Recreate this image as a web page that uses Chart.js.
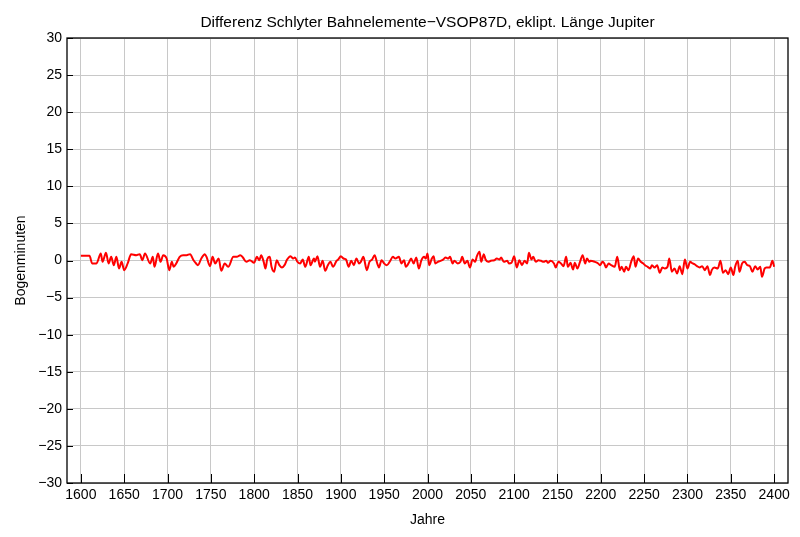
<!DOCTYPE html>
<html>
<head>
<meta charset="utf-8">
<script src="https://cdn.jsdelivr.net/npm/chart.js@4/dist/chart.umd.min.js"></script>
<style>
  body { margin: 0; background: #fff; }
  #wrap { width: 800px; height: 537px; }
</style>
</head>
<body>
<div id="wrap"><canvas id="diffChart" width="800" height="537"></canvas></div>
<script>
const titleText = 'Differenz Schlyter Bahnelemente\u2212VSOP87D, eklipt. L\u00e4nge Jupiter';
const xLabel = 'Jahre';
const yLabel = 'Bogenminuten';

const xTicks = [1600, 1650, 1700, 1750, 1800, 1850, 1900, 1950, 2000, 2050, 2100, 2150, 2200, 2250, 2300, 2350, 2400];
const yTicks = [-30, -25, -20, -15, -10, -5, 0, 5, 10, 15, 20, 25, 30];

// years and difference in arcminutes
const years = [
  1600, 1610, 1613, 1618, 1623, 1625, 1629, 1632, 1635, 1638, 1641, 1644, 1647, 1650, 1654, 1658,
  1664, 1668, 1671, 1674, 1680, 1683, 1685, 1689, 1692, 1695, 1699, 1702, 1705, 1707, 1710, 1714,
  1718, 1722, 1726, 1730, 1733, 1735, 1739, 1743, 1745, 1749, 1752, 1755, 1759, 1762, 1766, 1770,
  1776, 1780, 1784, 1787, 1791, 1795,
  1800, 1803, 1806, 1808, 1811, 1813, 1815, 1818, 1820, 1823, 1826, 1829, 1832, 1835, 1838, 1842,
  1845, 1847, 1850, 1853, 1856, 1859, 1863, 1865, 1869, 1870, 1873, 1876, 1879, 1882, 1885, 1888,
  1891, 1895, 1897, 1900, 1903, 1906, 1909, 1912, 1915, 1918, 1921, 1923, 1926, 1930, 1933, 1936,
  1939, 1942, 1944, 1947, 1950, 1953, 1957, 1960, 1963, 1967, 1970, 1973, 1975, 1979, 1981, 1984,
  1987, 1990,
  1993, 1996, 1998, 2000, 2002, 2005, 2007, 2009, 2012, 2015, 2018, 2021, 2024, 2026, 2029, 2031,
  2035, 2038, 2040, 2043, 2046, 2049, 2052, 2055, 2057, 2060, 2062, 2065, 2067, 2070, 2073, 2077,
  2080, 2083, 2085, 2088, 2092, 2094, 2097, 2100, 2103, 2106, 2109, 2112, 2115, 2117, 2120, 2122,
  2125, 2128, 2131, 2134, 2137, 2139, 2142, 2146, 2148, 2151, 2154, 2157, 2160, 2162, 2165, 2168,
  2170, 2173, 2176, 2179, 2182, 2184, 2187,
  2188, 2193, 2197, 2199, 2202, 2204, 2206, 2209, 2212, 2216, 2219, 2222, 2224, 2227, 2229, 2232,
  2235, 2238, 2240, 2243, 2246, 2249, 2251, 2254, 2257, 2259, 2262, 2265, 2268, 2271, 2274, 2277,
  2279, 2282, 2285, 2288, 2291, 2294, 2297, 2300, 2303, 2306, 2308, 2311, 2314, 2317, 2320, 2323,
  2326, 2328, 2331, 2335, 2338, 2341, 2344, 2347, 2350, 2353, 2355, 2358, 2360, 2363, 2366, 2369,
  2372, 2375, 2378, 2381, 2384, 2386, 2389, 2391, 2395, 2398, 2400
];
const diffMinutes = [
  0.63, 0.63, -0.40, -0.40, 0.94, -0.18, 1.03, -0.40, 0.49, -0.63, 0.49, -1.08, -0.18, -1.30, -0.40, 0.85,
  0.72, 0.85, 0.04, 0.94, -0.40, 0.49, -0.85, 0.94, -0.18, 0.72, 0.27, -1.30, -0.18, -0.85, -0.40, 0.49,
  0.72, 0.72, 0.85, 0.04, -0.40, -0.63, 0.27, 0.85, 0.49, -0.76, 0.49, -0.40, 0.27, -1.39, -0.40, -0.85,
  0.49, 0.49, 0.72, 0.40, -0.18, 0.04,
  -0.31, 0.49, 0.04, 0.72, -0.18, -1.08, 0.13, 0.49, -0.85, -1.52, 0.04, -0.63, -0.94, -0.63, 0.13, 0.58,
  0.27, 0.40, -0.18, -0.40, 0.13, -0.85, 0.49, -0.63, 0.27, -0.18, 0.58, -0.85, -0.04, -1.39, -0.63, -0.18,
  -0.85, -0.04, 0.13, 0.58, 0.27, 0.13, -0.85, -0.04, -0.63, 0.27, -0.40, -0.18, 0.49, -1.30, -0.18, 0.13,
  0.72, -0.40, -0.94, 0.04, -0.40, -0.63, -0.04, 0.49, 0.27, 0.49, -0.40, 0.04, -0.85, -0.18, 0.27, -0.40,
  0.40, -1.08,
  0.04, 0.49, 0.27, 0.94, -0.63, 0.27, 0.58, -0.40, -0.18, -0.04, 0.13, 0.40, 0.27, 0.49, -0.40, -0.04,
  -0.40, -0.18, 0.49, -0.40, -0.04, -0.94, 0.13, -0.18, 0.58, 1.17, -0.18, 0.85, 0.13, -0.18, -0.04, 0.04,
  0.27, 0.13, 0.40, -0.18, -0.04, -0.40, -0.31, 0.58, -0.94, 0.04, -0.63, -0.04, -0.40, 1.03, 0.13, 0.49,
  -0.18, 0.04, -0.04, -0.18, -0.04, -0.31, -0.04, -0.40, -0.94, -0.18, -0.40, -0.76, 0.49, -0.85, -0.31, -1.21,
  -0.31, -1.08, -0.18, 0.72, -0.40, 0.27, -0.18,
  -0.04, -0.18, -0.40, -0.63, -0.18, -0.40, -0.94, -0.40, -0.63, -0.85, 0.49, -1.30, -0.85, -1.52, -0.85, -1.30,
  -0.18, 0.58, -0.85, 0.27, -0.18, -0.40, -0.63, -0.85, -1.08, -0.63, -0.94, -0.63, -1.66, -0.94, -1.08, -0.85,
  0.27, -1.52, -1.08, -1.75, -0.76, -1.84, 0.13, -1.08, -0.18, -0.40, -0.49, -0.76, -0.94, -0.76, -1.30, -0.76,
  -1.97, -1.30, -0.94, -1.08, -0.04, -1.66, -1.30, -1.84, -0.94, -1.97, -0.85, -0.04, -1.52, -0.40, -0.18, -0.63,
  -0.76, -1.52, -0.76, -1.21, -0.85, -2.20, -1.08, -0.94, -0.94, -0.04, -0.85
];

const fontFamily = '"Liberation Sans", Arial, sans-serif';

// frame on all four sides plus short ticks pointing inward (bottom and left only)
const framePlugin = {
  id: 'frame',
  afterDraw(chart) {
    const ctx = chart.ctx;
    const area = chart.chartArea;
    const xScale = chart.scales.x;
    const yScale = chart.scales.y;
    ctx.save();
    ctx.strokeStyle = '#000';
    ctx.lineWidth = 1;
    ctx.beginPath();
    xTicks.forEach(v => {
      const px = Math.round(xScale.getPixelForValue(v)) + 0.5;
      ctx.moveTo(px, area.bottom);
      ctx.lineTo(px, area.bottom - 9);
    });
    yTicks.forEach(v => {
      const py = Math.round(yScale.getPixelForValue(v)) + 0.5;
      ctx.moveTo(area.left, py);
      ctx.lineTo(area.left + 6, py);
    });
    ctx.stroke();
    ctx.lineWidth = 1.3;
    ctx.strokeRect(area.left, area.top, area.right - area.left, area.bottom - area.top);
    ctx.restore();
  }
};

function createDiffChart() {
  const ctx = document.getElementById('diffChart').getContext('2d');
  const points = years.map((yr, i) => ({ x: yr, y: diffMinutes[i] }));

  new Chart(ctx, {
    type: 'line',
    data: {
      datasets: [
        {
          data: points,
          borderColor: '#ff0000',
          borderWidth: 2,
          pointRadius: 0,
          cubicInterpolationMode: 'monotone',
          fill: false
        }
      ]
    },
    options: {
      responsive: false,
      animation: false,
      layout: { padding: { left: 0, right: 12, top: 0, bottom: 0 } },
      plugins: {
        legend: { display: false },
        tooltip: { enabled: false },
        title: {
          display: true,
          text: titleText,
          fullSize: false,
          color: '#000',
          font: { family: fontFamily, size: 15.5, weight: 'normal' },
          padding: { top: 13, bottom: 6.4 }
        }
      },
      scales: {
        x: {
          type: 'linear',
          min: 1584,
          max: 2416,
          afterBuildTicks: scale => { scale.ticks = xTicks.map(v => ({ value: v })); },
          afterFit: scale => { scale.height = 54; },
          grid: { color: '#c8c8c8', lineWidth: 1, drawTicks: false },
          border: { display: false },
          ticks: {
            color: '#000',
            padding: 4,
            maxRotation: 0,
            autoSkip: false,
            font: { family: fontFamily, size: 14 },
            callback: v => String(v)
          },
          title: {
            display: true,
            text: xLabel,
            color: '#000',
            font: { family: fontFamily, size: 14 },
            padding: { top: 0, bottom: 8 }
          }
        },
        y: {
          min: -30,
          max: 30,
          afterBuildTicks: scale => { scale.ticks = yTicks.map(v => ({ value: v })); },
          afterFit: scale => { scale.width = 67; },
          grid: { color: '#c8c8c8', lineWidth: 1, drawTicks: false },
          border: { display: false },
          ticks: {
            color: '#000',
            padding: 5,
            autoSkip: false,
            font: { family: fontFamily, size: 14 },
            callback: v => (v < 0 ? '\u2212' + Math.abs(v) : String(v))
          },
          title: {
            display: true,
            text: yLabel,
            color: '#000',
            font: { family: fontFamily, size: 14 },
            padding: { top: 13, bottom: 0 }
          }
        }
      }
    },
    plugins: [framePlugin]
  });
}

createDiffChart();
</script>
</body>
</html>
